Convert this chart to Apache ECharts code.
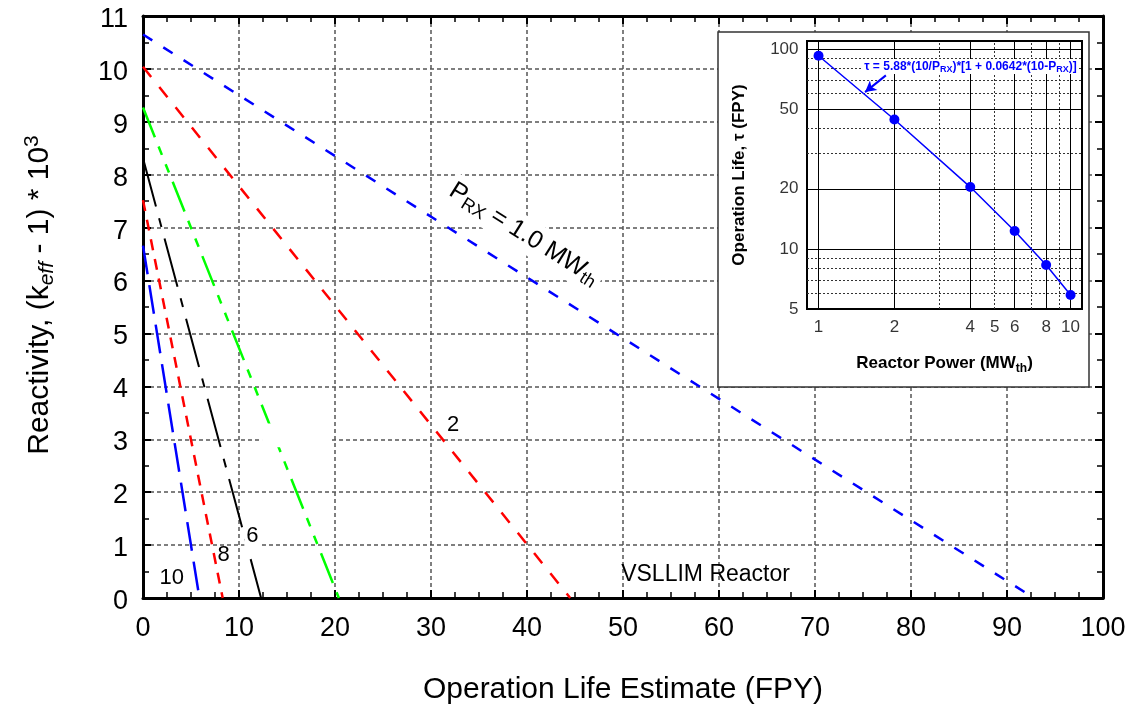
<!DOCTYPE html>
<html><head><meta charset="utf-8">
<script src="https://cdn.jsdelivr.net/npm/echarts@6/dist/echarts.min.js"></script>
<style>html,body{margin:0;padding:0;background:#fff}#c{width:1137px;height:706px}</style>
</head><body><div id="c"></div>
<script>
// ---- data ----
const powers = [1, 2, 4, 6, 8, 10];                       // reactor power, MWth
const initialReactivity = [10.65, 10.04, 9.27, 8.31, 7.52, 6.66]; // (keff-1)*1e3 at t=0
const operationLife = [92.8, 44.5, 20.4, 12.3, 8.3, 5.88];  // FPY (reactivity reaches 0)
const lineLabels = ['10', '8', '6', '2'];
const insetXLabels = [1, 2, 4, 5, 6, 8, 10];
const insetYLabels = [5, 10, 20, 50, 100];
const insetXGridSolid = [1, 2, 4, 6, 8, 10];
const insetXGridDotted = [3, 5, 7, 9];
const insetYGridSolid = [10, 20, 50, 100];
const insetYGridDotted = [6, 7, 8, 9, 30, 40, 60, 70, 80, 90];

const FONT = 'Liberation Sans, Arial, Helvetica, sans-serif';
const mainStyles = [
  {color: '#0000ff', type: [11, 13], width: 2.5},
  {color: '#ff0000', type: [13, 13], width: 2.5},
  {color: '#00ff00', type: [32, 10, 9, 10, 9, 10], width: 2.5},
  {color: '#000000', type: [50, 12, 9, 12], width: 2},
  {color: '#ff0000', type: [11, 9], width: 2.5},
  {color: '#0000ff', type: [29, 11], width: 2.5}
];

const chart = echarts.init(document.getElementById('c'), null, {renderer: 'canvas'});

const gridLine = {show: true, lineStyle: {color: '#555', type: [4, 3], width: 1.5}};
function mainX(pos, withLabels) {
  return {
    type: 'value', gridIndex: 0, position: pos, min: 0, max: 100, interval: 10,
    axisLine: {show: true, onZero: false, lineStyle: {color: '#000', width: 3}},
    axisTick: {show: true, inside: true, length: 8, lineStyle: {color: '#000', width: 2}},
    minorTick: {show: true, splitNumber: 4, length: 6, lineStyle: {color: '#000', width: 1.5}},
    axisLabel: {show: withLabels, fontSize: 27, color: '#000', fontFamily: FONT, margin: 17},
    splitLine: withLabels ? gridLine : {show: false},
    name: withLabels ? 'Operation Life Estimate (FPY)' : '',
    nameLocation: 'middle', nameGap: 77,
    nameTextStyle: {fontSize: 30, color: '#000', fontFamily: FONT}
  };
}
function mainY(pos, withLabels) {
  return {
    type: 'value', gridIndex: 0, position: pos, min: 0, max: 11, interval: 1,
    axisLine: {show: true, onZero: false, lineStyle: {color: '#000', width: 3}},
    axisTick: {show: true, inside: true, length: 8, lineStyle: {color: '#000', width: 2}},
    minorTick: {show: true, splitNumber: 2, length: 6, lineStyle: {color: '#000', width: 1.5}},
    axisLabel: {show: withLabels, margin: 15, formatter: v => '{a|' + v + '}',
      rich: {a: {fontSize: 27, color: '#000', fontFamily: FONT, padding: [7, 0, 0, 0]}}},
    splitLine: withLabels ? gridLine : {show: false}
  };
}

const series = [];
powers.forEach((p, i) => {
  series.push({
    type: 'line', xAxisIndex: 0, yAxisIndex: 0, name: 'P=' + p,
    data: [[0, initialReactivity[i]], [operationLife[i], 0]],
    symbol: 'none', lineStyle: mainStyles[i], z: 3, silent: true, clip: false
  });
});

// inset grid lines (drawn as mark lines on a hidden copy of the inset series)
series.push({
  type: 'line', xAxisIndex: 2, yAxisIndex: 2, name: 'insetGrid',
  data: powers.map((p, i) => [p, operationLife[i]]),
  symbol: 'none', lineStyle: {opacity: 0}, z: 31, silent: true,
  markLine: {
    z: 31, silent: true, symbol: ['none', 'none'], label: {show: false}, animation: false, precision: 4,
    data: [].concat(
      insetXGridDotted.map(v => ({xAxis: v, lineStyle: {color: '#333', width: 1, type: [2, 2]}})),
      insetYGridDotted.map(v => ({yAxis: v, lineStyle: {color: '#333', width: 1, type: [2, 2]}})),
      insetXGridSolid.map(v => ({xAxis: v, lineStyle: {color: '#000', width: 1, type: 'solid'}})),
      insetYGridSolid.map(v => ({yAxis: v, lineStyle: {color: '#000', width: 1, type: 'solid'}}))
    )
  }
});
// inset data
series.push({
  type: 'line', xAxisIndex: 2, yAxisIndex: 2, name: 'tau',
  data: powers.map((p, i) => [p, operationLife[i]]),
  symbol: 'circle', symbolSize: 10, itemStyle: {color: '#0000ff'},
  lineStyle: {color: '#0000ff', width: 1.5}, z: 32, silent: true,
  markLine: {
    z: 34, silent: true, symbol: ['none', 'arrow'], symbolSize: [9, 11], label: {show: false}, animation: false,
    lineStyle: {color: '#0000ff', width: 2, type: 'solid'},
    data: [[{coord: [1.85, 74]}, {coord: [1.53, 61]}]]
  }
});
// inset tick labels
series.push({
  type: 'scatter', xAxisIndex: 2, yAxisIndex: 2, z: 33, silent: true,
  data: insetXLabels.map(v => [v, 5]), symbolSize: 1, itemStyle: {color: 'rgba(0,0,0,0)'},
  label: {show: true, position: 'bottom', distance: 9, fontSize: 17, color: '#000', fontFamily: FONT,
    formatter: p => String(p.value[0])}
});
series.push({
  type: 'scatter', xAxisIndex: 2, yAxisIndex: 2, z: 33, silent: true,
  data: insetYLabels.map(v => [0.9, v]), symbolSize: 1, itemStyle: {color: 'rgba(0,0,0,0)'},
  label: {show: true, position: 'left', distance: 8, fontSize: 17, color: '#000', fontFamily: FONT,
    formatter: p => String(p.value[1])}
});

const option = {
  backgroundColor: '#fff',
  animation: false,
  grid: [
    {left: 143, right: 34, top: 16, bottom: 108, containLabel: false, outerBoundsMode: 'none'},
    {left: 807, right: 55, top: 41, bottom: 397, show: true, borderColor: '#000', borderWidth: 2,
      backgroundColor: '#fff', z: 30, containLabel: false, outerBoundsMode: 'none'}
  ],
  xAxis: [
    mainX('bottom', true),
    mainX('top', false),
    {
      type: 'log', gridIndex: 1, logBase: 10, min: 0.9, max: 11.1, z: 30,
      axisLine: {show: false}, axisTick: {show: false}, axisLabel: {show: false},
      splitLine: {show: false}, minorTick: {show: false}, minorSplitLine: {show: false},
      name: '{b|Reactor Power (MW}{s|th}{b|)}', nameLocation: 'middle', nameGap: 42,
      nameTextStyle: {rich: {
        b: {fontSize: 17, fontWeight: 'bold', color: '#000', fontFamily: FONT, lineHeight: 24},
        s: {fontSize: 12, fontWeight: 'bold', color: '#000', fontFamily: FONT, lineHeight: 12, verticalAlign: 'bottom'}
      }}
    }
  ],
  yAxis: [
    mainY('left', true),
    mainY('right', false),
    {
      type: 'log', gridIndex: 1, logBase: 10, min: 5, max: 110, z: 30,
      axisLine: {show: false}, axisTick: {show: false}, axisLabel: {show: false},
      splitLine: {show: false}, minorTick: {show: false}, minorSplitLine: {show: false},
      name: 'Operation Life, \u03c4 (FPY)', nameLocation: 'middle', nameGap: 59, nameRotate: 90,
      nameTextStyle: {fontSize: 17, fontWeight: 'bold', color: '#000', fontFamily: FONT}
    }
  ],
  series: series
};
chart.setOption(option);

// ---- annotations placed in data coordinates ----
const toMain = (x, y) => chart.convertToPixel({xAxisIndex: 0, yAxisIndex: 0}, [x, y]);
const toInset = (x, y) => chart.convertToPixel({xAxisIndex: 2, yAxisIndex: 2}, [x, y]);
const labelPos = [[3.0, 0.38], [8.4, 0.82], [11.4, 1.17], [32.3, 3.28]];
const g = [];
g.push({type: 'rect', id: 'frame', shape: {x: 718, y: 32, width: 371, height: 355},
  style: {fill: '#fff', stroke: '#333', lineWidth: 1.5}, z: 20, silent: true});
{
  const a = toMain(12.4, 3.3), b = toMain(19.5, 2.85);
  g.push({type: 'rect', id: 'blank', shape: {x: a[0], y: a[1], width: b[0] - a[0], height: b[1] - a[1]},
    style: {fill: '#fff'}, z: 5, silent: true});
}
lineLabels.forEach((t, i) => {
  const p = toMain(labelPos[i][0], labelPos[i][1]);
  g.push({type: 'text', id: 'lab' + i, x: p[0], y: p[1], z: 6, silent: true,
    style: {text: t, fill: '#000', fontSize: 22, fontFamily: FONT, align: 'center', verticalAlign: 'middle',
      backgroundColor: (i >= 2 ? '#fff' : 'transparent'), padding: [1, 2]}});
});
{
  const p = toMain(58.6, 0.44);
  g.push({type: 'text', id: 'vsllim', x: p[0], y: p[1], z: 6, silent: true,
    style: {text: 'VSLLIM Reactor', fill: '#000', fontSize: 23, fontFamily: FONT, align: 'center', verticalAlign: 'middle'}});
}
{
  const p = toMain(39.7, 6.88);
  g.push({type: 'text', id: 'prx', x: p[0], y: p[1], rotation: -32 * Math.PI / 180, z: 1, silent: true,
    style: {
      text: '{m|P}{s|RX}{m| = 1.0 MW}{s|th}', align: 'center', verticalAlign: 'middle',
      backgroundColor: '#fff', padding: [2, 4],
      rich: {
        m: {fontSize: 25, fontFamily: FONT, fill: '#000', lineHeight: 30},
        s: {fontSize: 18, fontFamily: FONT, fill: '#000', lineHeight: 16, verticalAlign: 'bottom'}
      }
    }});
}
g.push({type: 'text', id: 'ytitle', x: 40, y: 295, rotation: Math.PI / 2, z: 6, silent: true,
  style: {
    text: '{m|Reactivity, (k}{s|eff}{m| - 1) * 10}{u|3}', align: 'center', verticalAlign: 'middle',
    rich: {
      m: {fontSize: 30, fontFamily: FONT, fill: '#000', lineHeight: 36},
      s: {fontSize: 21, fontFamily: FONT, fontStyle: 'italic', fill: '#000', lineHeight: 20, verticalAlign: 'bottom'},
      u: {fontSize: 21, fontFamily: FONT, fill: '#000', lineHeight: 20, verticalAlign: 'top'}
    }
  }});
{
  const p = toInset(1.49, 82);
  g.push({type: 'text', id: 'formula', x: p[0], y: p[1], z: 40, silent: true,
    style: {
      text: '{b|\u03c4 = 5.88*(10/P}{s|RX}{b|)*[1 + 0.0642*(10-P}{s|RX}{b|)]}', align: 'left', verticalAlign: 'middle',
      backgroundColor: '#fff', padding: [0, 2],
      rich: {
        b: {fontSize: 12, fontWeight: 'bold', fontFamily: FONT, fill: '#0000ff', lineHeight: 15},
        s: {fontSize: 9, fontWeight: 'bold', fontFamily: FONT, fill: '#0000ff', lineHeight: 9, verticalAlign: 'bottom'}
      }
    }});
}
chart.setOption({graphic: {elements: g}});
</script>
</body></html>
